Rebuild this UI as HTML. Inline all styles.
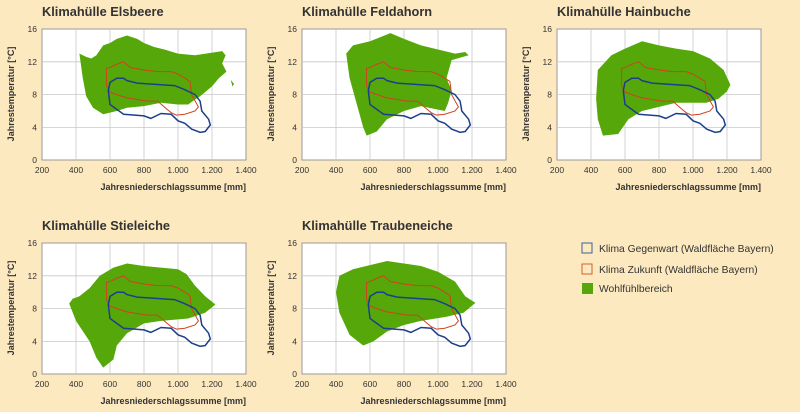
<!DOCTYPE html>
<html><head><meta charset="utf-8"><style>
html,body{margin:0;padding:0;background:#fde9bf;}
svg{display:block;font-family:"Liberation Sans",sans-serif;}
</style></head><body>
<svg width="800" height="412" viewBox="0 0 800 412" xmlns="http://www.w3.org/2000/svg">
<rect width="800" height="412" fill="#fde9bf"/>
<defs>
<g id="grid">
  <rect x="0" y="0" width="204" height="131" fill="#fff" stroke="#999" stroke-width="1"/>
  <g stroke="#c8c8c8" stroke-width="0.8">
    <line x1="34" y1="0" x2="34" y2="131"/><line x1="68" y1="0" x2="68" y2="131"/>
    <line x1="102" y1="0" x2="102" y2="131"/><line x1="136" y1="0" x2="136" y2="131"/>
    <line x1="170" y1="0" x2="170" y2="131"/>
    <line x1="0" y1="32.8" x2="204" y2="32.8"/><line x1="0" y1="65.6" x2="204" y2="65.6"/>
    <line x1="0" y1="98.4" x2="204" y2="98.4"/>
  </g>
</g>
<g id="clim">
  <path vector-effect="non-scaling-stroke" fill="none" stroke="#d2401e" stroke-width="1" d="M580 11.2 L600 11.3 640 11.7 680 12 720 11.3 800 11 880 10.8 960 10.8 1000 10.5 1040 10 1070 9.6 1080 8 1120 6.5 1100 6 1040 5.6 990 5.5 960 5.8 930 6.3 880 7.2 820 7.2 760 7.4 700 7.6 640 8 600 8.3 580 9 Z"/>
  <path vector-effect="non-scaling-stroke" fill="none" stroke="#1c3f8c" stroke-width="1.5" d="M590 8.5 L600 9.5 640 10 680 10 700 9.7 760 9.4 900 9.2 980 9.1 1040 8.6 1100 8 1130 7.2 1140 6 1180 5 1190 4.3 1160 3.5 1130 3.4 1080 3.8 1040 4.5 1000 4.8 960 5.6 900 5.7 840 5.1 800 5.4 680 5.6 640 6.2 600 6.8 Z"/>
</g>
<g id="lab">
  <g font-size="8.5" fill="#333" text-anchor="end">
    <text x="-5" y="3">16</text><text x="-5" y="35.8">12</text><text x="-5" y="68.6">8</text>
    <text x="-5" y="101.4">4</text><text x="-5" y="134">0</text>
  </g>
  <g font-size="8.5" fill="#333" text-anchor="middle">
    <text x="0" y="144">200</text><text x="34" y="144">400</text><text x="68" y="144">600</text>
    <text x="102" y="144">800</text><text x="136" y="144">1.000</text><text x="170" y="144">1.200</text>
    <text x="204" y="144">1.400</text>
  </g>
  <text x="204" y="161" font-size="9" font-weight="bold" fill="#333" text-anchor="end">Jahresniederschlagssumme [mm]</text>
  <text transform="translate(-28,65) rotate(-90)" font-size="9" font-weight="bold" fill="#333" text-anchor="middle">Jahrestemperatur [°C]</text>
</g>
</defs>

<g transform="translate(42,29)">
  <text x="0" y="-13" font-size="12.8" font-weight="bold" fill="#333">Klimahülle Elsbeere</text>
  <use href="#grid"/>
  <g transform="translate(-34,131.2) scale(0.17,-8.2)">
    <path fill="#56a80a" d="M420 13 L460 12.6 490 12.4 520 12.8 560 14 600 14.3 640 14.8 700 15.2 760 14.8 800 14.3 860 13.8 920 13.5 1000 13 1100 12.8 1260 13.3 1280 12.8 1260 11.8 1285 10.8 1240 10 1200 9 1130 7.8 1100 7.4 1060 6.8 1000 6.8 900 7.0 800 6.6 700 6.4 640 6 560 5.6 500 6.4 460 7.8 440 10 Z M1310 9.8 L1330 9.3 1320 9.0 Z"/>
    <use href="#clim"/>
  </g>
  <use href="#lab"/>
</g>
<g transform="translate(302,29)">
  <text x="0" y="-13" font-size="12.8" font-weight="bold" fill="#333">Klimahülle Feldahorn</text>
  <use href="#grid"/>
  <g transform="translate(-34,131.2) scale(0.17,-8.2)">
    <path fill="#56a80a" d="M500 14 L600 14.5 720 15.5 800 14.8 900 14 1000 13.5 1100 13 1160 13.2 1180 12.8 1080 12.2 1050 10 1080 8.5 1060 7 1040 6 900 6.6 800 6 700 5 640 3.5 580 3 560 4 520 7 480 10 460 13 Z"/>
    <use href="#clim"/>
  </g>
  <use href="#lab"/>
</g>
<g transform="translate(557,29)">
  <text x="0" y="-13" font-size="12.8" font-weight="bold" fill="#333">Klimahülle Hainbuche</text>
  <use href="#grid"/>
  <g transform="translate(-34,131.2) scale(0.17,-8.2)">
    <path fill="#56a80a" d="M440 11 L520 12.8 600 13.6 700 14.5 800 14 900 13.6 1000 13.3 1100 12.4 1180 11 1220 9.2 1200 8.4 1150 7.5 1080 7 900 7 800 6.5 700 6 620 5 560 3.2 470 3 440 5 430 7.5 Z"/>
    <use href="#clim"/>
  </g>
  <use href="#lab"/>
</g>
<g transform="translate(42,243)">
  <text x="0" y="-13" font-size="12.8" font-weight="bold" fill="#333">Klimahülle Stieleiche</text>
  <use href="#grid"/>
  <g transform="translate(-34,131.2) scale(0.17,-8.2)">
    <path fill="#56a80a" d="M380 9.2 L420 9.5 480 10.5 540 12 620 13 700 13.5 800 13.2 900 13 1000 12.8 1050 12.2 1100 10.8 1160 9.5 1220 8.5 1160 7.5 1060 6.8 900 6.5 800 6.2 700 5 640 3.5 620 1.8 560 0.8 520 2 480 4 400 6.5 360 8.6 Z"/>
    <use href="#clim"/>
  </g>
  <use href="#lab"/>
</g>
<g transform="translate(302,243)">
  <text x="0" y="-13" font-size="12.8" font-weight="bold" fill="#333">Klimahülle Traubeneiche</text>
  <use href="#grid"/>
  <g transform="translate(-34,131.2) scale(0.17,-8.2)">
    <path fill="#56a80a" d="M420 12 L500 12.8 600 13.3 700 13.8 800 13.5 900 13.2 1000 12.5 1100 11.3 1160 9.5 1220 8.7 1150 7.5 1050 7 900 6.5 800 6 700 5.2 620 4 560 3.5 480 4.8 420 7.5 400 10 Z"/>
    <use href="#clim"/>
  </g>
  <use href="#lab"/>
</g>

<rect x="582" y="243" width="10" height="10" fill="none" stroke="#3a5f9c" stroke-width="1"/>
<text x="599" y="252" font-size="10.3" fill="#333">Klima Gegenwart (Waldfläche Bayern)</text>
<rect x="582" y="264" width="10" height="10" fill="none" stroke="#d2602e" stroke-width="1"/>
<text x="599" y="273" font-size="10.3" fill="#333">Klima Zukunft (Waldfläche Bayern)</text>
<rect x="582" y="283" width="11" height="11" fill="#56a80a"/>
<text x="599" y="292" font-size="10.3" fill="#333">Wohlfühlbereich</text>
</svg>
</body></html>
